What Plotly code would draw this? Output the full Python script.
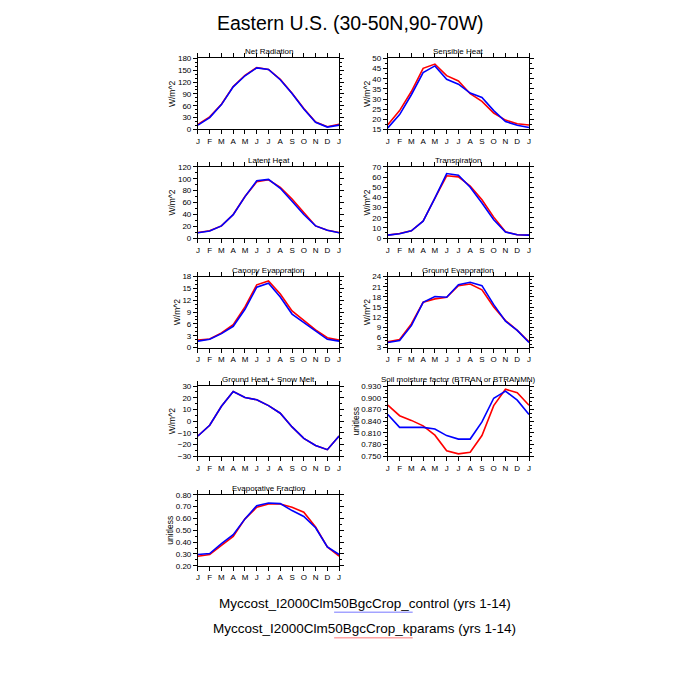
import plotly.graph_objects as go

# ---- data (Jan..Dec + Jan wrap) ----
months = ["J", "F", "M", "A", "M", "J", "J", "A", "S", "O", "N", "D", "J"]

net_rad_ctl = [11, 30, 63, 108, 136, 156, 152, 126, 91, 52, 18, 6, 11]
net_rad_kp = [13, 32, 64, 109, 137, 157, 152, 127, 92, 53, 19, 7, 13]

sens_ctl = [15.8, 22.3, 32.1, 43.0, 46.3, 39.7, 37.3, 32.9, 30.8, 24.3, 18.9, 17.1, 16.0]
sens_kp = [17.3, 24.3, 33.7, 45.1, 47.2, 41.5, 38.9, 32.6, 28.8, 23.1, 19.6, 17.8, 17.2]

lat_ctl = [9.0, 12.0, 20.5, 39.5, 70.0, 96.7, 99.0, 84.0, 62.0, 39.8, 20.5, 13.3, 9.0]
lat_kp = [9.4, 12.2, 20.5, 39.8, 70.0, 95.0, 98.4, 85.7, 66.0, 43.0, 20.5, 13.3, 9.4]

transp_ctl = [2.9, 4.3, 7.1, 16.6, 39.4, 63.5, 61.8, 50.0, 34.5, 18.0, 6.0, 3.2, 2.9]
transp_kp = [2.9, 4.5, 7.1, 16.8, 39.4, 61.3, 60.3, 51.3, 37.7, 20.6, 6.1, 3.2, 2.9]

canopy_ctl = [1.65, 2.1, 3.55, 5.4, 9.7, 15.3, 16.3, 12.8, 8.5, 6.4, 4.1, 2.1, 1.65]
canopy_kp = [1.9, 2.2, 3.7, 5.8, 10.3, 15.9, 16.9, 13.6, 9.3, 7.0, 4.5, 2.5, 1.9]

grnd_ctl = [4.5, 5.1, 9.5, 16.4, 18.1, 17.9, 21.6, 22.3, 21.3, 15.7, 10.8, 8.1, 4.5]
grnd_kp = [4.7, 5.4, 10.0, 16.4, 17.4, 17.9, 21.3, 21.8, 20.1, 15.0, 11.0, 8.1, 4.7]

gheat_ctl = [-12.7, -3.5, 12.7, 25.3, 20.2, 18.3, 13.3, 6.8, -4.9, -14.7, -20.8, -24.4, -12.7]
gheat_kp = [-12.7, -3.5, 12.7, 25.3, 20.2, 18.3, 13.3, 6.8, -4.9, -14.7, -20.8, -24.4, -12.7]

btran_ctl = [0.857, 0.824, 0.824, 0.824, 0.820, 0.803, 0.794, 0.794, 0.838, 0.899, 0.917, 0.894, 0.857]
btran_kp = [0.881, 0.854, 0.842, 0.828, 0.804, 0.764, 0.756, 0.760, 0.803, 0.880, 0.922, 0.913, 0.881]

evfrac_ctl = [0.295, 0.303, 0.387, 0.462, 0.596, 0.708, 0.730, 0.725, 0.666, 0.616, 0.521, 0.359, 0.295]
evfrac_kp = [0.281, 0.295, 0.373, 0.448, 0.596, 0.694, 0.722, 0.722, 0.694, 0.652, 0.527, 0.359, 0.281]

ctl_name = "Myccost_I2000Clm50BgcCrop_control (yrs 1-14)"
kp_name = "Myccost_I2000Clm50BgcCrop_kparams (yrs 1-14)"

# panel: title, control, kparams, y range, dtick, tickformat, y title, col, row
panels = [
    ("Net Radiation", net_rad_ctl, net_rad_kp, [0, 180], 30, "d", "W/m^2", 0, 0),
    ("Sensible Heat", sens_ctl, sens_kp, [15, 50], 5, "d", "W/m^2", 1, 0),
    ("Latent Heat", lat_ctl, lat_kp, [0, 120], 20, "d", "W/m^2", 0, 1),
    ("Transpiration", transp_ctl, transp_kp, [0, 70], 10, "d", "W/m^2", 1, 1),
    ("Canopy Evaporation", canopy_ctl, canopy_kp, [0, 18], 3, "d", "W/m^2", 0, 2),
    ("Ground Evaporation", grnd_ctl, grnd_kp, [3, 24], 3, "d", "W/m^2", 1, 2),
    ("Ground Heat + Snow Melt", gheat_ctl, gheat_kp, [-30, 30], 10, "d", "W/m^2", 0, 3),
    ("Soil moisture factor (BTRAN or BTRANMN)", btran_ctl, btran_kp, [0.75, 0.93], 0.03, ".3f", "unitless", 1, 3),
    ("Evaporative Fraction", evfrac_ctl, evfrac_kp, [0.2, 0.8], 0.1, ".2f", "unitless", 0, 4),
]

W = H = 700
OFF = 8  # page body margin
col_px = [(197, 339), (388, 530)]
row_px = [(55, 127), (165, 237), (276, 348), (387, 458), (497, 569)]
FONT = "Liberation Sans, Arial, sans-serif"


def px_x(p):
    return (p - OFF) / W


def px_y(p):
    return 1 - (p - OFF) / H


fig = go.Figure()
xs = list(range(len(months)))

for i, (title, ctl, kp, yr, dt, fmt, ytitle, c, r) in enumerate(panels, start=1):
    xa = "x" if i == 1 else f"x{i}"
    ya = "y" if i == 1 else f"y{i}"
    fig.add_trace(go.Scatter(x=xs, y=kp, mode="lines", line=dict(color="#ff0000", width=1.6),
                             xaxis=xa, yaxis=ya, showlegend=False, name="kparams"))
    fig.add_trace(go.Scatter(x=xs, y=ctl, mode="lines", line=dict(color="#0000ff", width=1.6),
                             xaxis=xa, yaxis=ya, showlegend=False, name="control"))

    x0, x1 = col_px[c]
    y0, y1 = row_px[r]
    xdom = [px_x(x0), px_x(x1)]
    ydom = [px_y(y1), px_y(y0)]
    sfx = "" if i == 1 else str(i)
    fig.layout[f"xaxis{sfx}"] = dict(
        domain=xdom, anchor=ya, range=[0, 12], tickvals=xs, ticktext=months,
        showline=True, linecolor="black", linewidth=1, mirror="allticks",
        ticks="outside", ticklen=4, tickcolor="black", showgrid=False, zeroline=False,
        tickfont=dict(size=8, color="black", family=FONT),
    )
    fig.layout[f"yaxis{sfx}"] = dict(
        domain=ydom, anchor=xa, range=yr, dtick=dt, tick0=yr[0], tickformat=fmt,
        showline=True, linecolor="black", linewidth=1, mirror="allticks",
        ticks="outside", ticklen=4, tickcolor="black", showgrid=False, zeroline=False,
        minor=dict(ticks="outside", ticklen=2, tickcolor="black", nticks=3),
        tickfont=dict(size=8, color="black", family=FONT),
        title=dict(text=ytitle, font=dict(size=8.5, color="black", family=FONT), standoff=0),
    )
    fig.add_annotation(x=(xdom[0] + xdom[1]) / 2, y=ydom[1], xref="paper", yref="paper",
                       text=title, showarrow=False, yanchor="bottom", xanchor="center",
                       font=dict(size=8, color="black", family=FONT))

# main title
fig.add_annotation(x=px_x(350), y=px_y(19), xref="paper", yref="paper",
                   text="Eastern U.S. (30-50N,90-70W)", showarrow=False,
                   xanchor="center", yanchor="middle",
                   font=dict(size=19.5, color="black", family=FONT))

# legend text + underlines
fig.add_annotation(x=px_x(365), y=px_y(607), xref="paper", yref="paper", text=ctl_name,
                   showarrow=False, xanchor="center", yanchor="middle",
                   font=dict(size=13.5, color="black", family=FONT))
fig.add_annotation(x=px_x(365), y=px_y(633), xref="paper", yref="paper", text=kp_name,
                   showarrow=False, xanchor="center", yanchor="middle",
                   font=dict(size=13.5, color="black", family=FONT))
fig.add_shape(type="line", xref="paper", yref="paper", x0=px_x(334), x1=px_x(413),
              y0=px_y(616), y1=px_y(616), line=dict(color="rgba(60,60,255,0.7)", width=1))
fig.add_shape(type="line", xref="paper", yref="paper", x0=px_x(334), x1=px_x(413),
              y0=px_y(642), y1=px_y(642), line=dict(color="rgba(255,60,60,0.7)", width=1))

fig.update_layout(
    width=W, height=H,
    margin=dict(l=0, r=0, t=0, b=0),
    paper_bgcolor="white", plot_bgcolor="white",
    showlegend=False,
    font=dict(family=FONT, color="black"),
)

fig.write_html("out.html")
